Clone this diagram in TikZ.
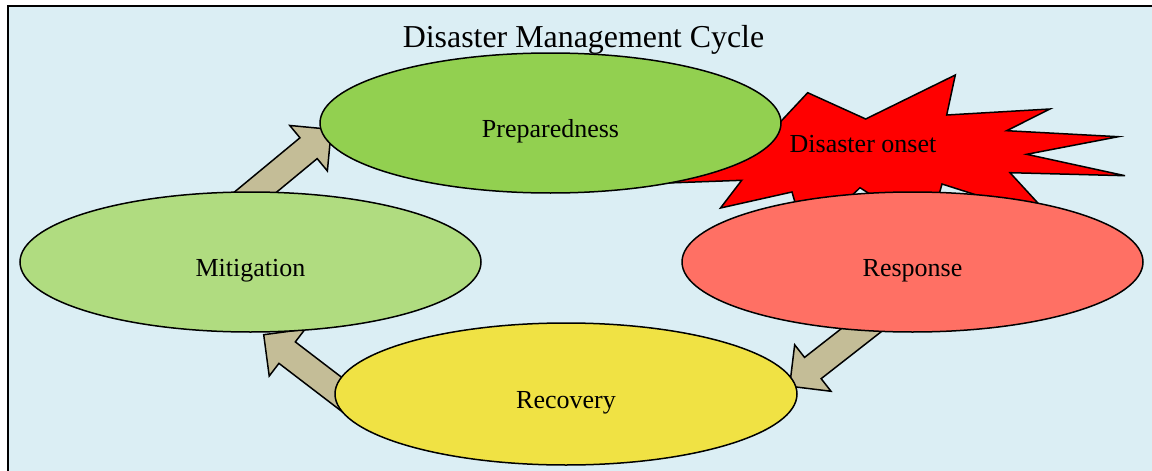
\documentclass[tikz,border=0pt]{standalone}
\usepackage{fontspec}
\setmainfont{Liberation Serif}
\usetikzlibrary{calc,shapes.geometric}
\definecolor{bgblue}{HTML}{DBEEF4}
\definecolor{prepgreen}{HTML}{92D050}
\definecolor{mitgreen}{HTML}{B0DC80}
\definecolor{resred}{HTML}{FF7064}
\definecolor{recyellow}{HTML}{F0E244}
\definecolor{arrowtan}{HTML}{C4BD97}
\newcommand\blockarrow[2]{%
  \coordinate (#1-h) at ($(#2)!29.5pt!(#1)$);
  \filldraw[blockarrowstyle]
    ($(#1)!13.5pt!90:(#2)$) -- ($(#1-h)!13.5pt!90:(#2)$) -- ($(#1-h)!29.5pt!90:(#2)$)
    -- (#2) -- ($(#1-h)!29.5pt!-90:(#2)$) -- ($(#1-h)!13.5pt!-90:(#2)$)
    -- ($(#1)!13.5pt!-90:(#2)$) -- cycle;}
\begin{document}
\begin{tikzpicture}[x=1pt,y=-1pt,line width=1.5pt,
  blockarrowstyle/.style={fill=arrowtan,draw=black,line width=1.5pt,line join=miter},
  phase/.style={ellipse,draw=black,line width=1.5pt,minimum width=461pt,minimum height=140pt,
    inner sep=0pt,font=\fontsize{26}{30}\selectfont,text height=29pt,text depth=0pt},
  plain/.style={font=\fontsize{26}{30}\selectfont,anchor=base,inner sep=0pt}]
\useasboundingbox (0,0) rectangle (1152,471);
\fill[white] (0,0) rectangle (1152,471);
\fill[bgblue] (8,6) rectangle (1152,471);
\draw[line width=1.5pt] (8,471) -- (8,6) -- (1152,6);

% arrows (tails hidden under the ellipses)
\coordinate (a1t) at (231.2,212.2); \coordinate (a1p) at (331.3,129.4);
\coordinate (a2t) at (369.5,415.6); \coordinate (a2p) at (263.7,334.7);
\coordinate (a3t) at (899.9,300);   \coordinate (a3p) at (789.6,386.2);
\blockarrow{a1t}{a1p}
\blockarrow{a2t}{a2p}
\blockarrow{a3t}{a3p}

% disaster onset star
\filldraw[fill=red,draw=black,line width=1.5pt,line join=miter]
  (770,133) -- (807.7,92.7) -- (865.7,119) -- (955.3,75) -- (946.7,115) -- (1050,109)
  -- (1006.7,130.7) -- (1118.3,136.7) -- (1026.7,154.3) -- (1125,175.7) -- (1010,172.7)
  -- (1053,219.5) -- (942,184) -- (928.6,232) -- (860,187.7) -- (805.7,239.2) -- (792,192)
  -- (720.5,208) -- (741.7,180.3) -- (640,184) -- cycle;

% phases
\node[phase,fill=prepgreen] (prep) at (550.5,123) {Preparedness};
\node[phase,fill=mitgreen] (mit) at (250.5,262) {Mitigation};
\node[phase,fill=resred] (resp) at (912.5,262) {Response};
\node[phase,fill=recyellow,minimum width=462pt,minimum height=142pt] (rec) at (566,394) {Recovery};

\node[plain] (onset) at (863,152) {Disaster onset};
\node[font=\fontsize{31.9}{36}\selectfont,anchor=base,inner sep=0pt] (title) at (583.5,47) {Disaster Management Cycle};
\end{tikzpicture}
\end{document}
